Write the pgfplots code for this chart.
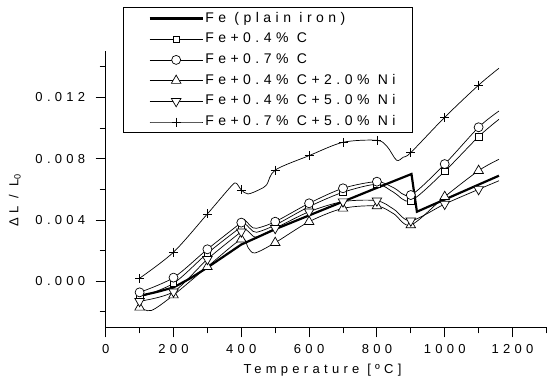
\documentclass[border=0pt]{standalone}
\usepackage{fontspec}
\setmainfont{Liberation Sans}[LetterSpace=33]
\usepackage{pgfplots}
\pgfplotsset{compat=1.18}
\begin{document}
\begin{tikzpicture}
\begin{axis}[
  scale only axis,
  width=440.7bp, height=275.9bp,
  xmin=0, xmax=1300, ymin=-0.003, ymax=0.015,
  axis lines*=left,
  axis line style={line width=1.1bp, black},
  tick align=outside,
  major tick length=10bp, minor tick length=6bp,
  tick style={line width=1bp, black},
  xtick={0,200,...,1200},
  minor xtick={100,300,...,1300},
  ytick={0,0.004,0.008,0.012},
  minor ytick={-0.002,0.002,0.006,0.010,0.014},
  scaled y ticks=false,
  /pgf/number format/assume math mode=true,
  /pgf/number format/1000 sep={},
  yticklabel style={xshift=-7bp, /pgf/number format/.cd, fixed, fixed zerofill, precision=3},
  xticklabel style={yshift=-4bp},
  ticklabel style={font=\fontsize{13bp}{15bp}\selectfont},
  label style={font=\fontsize{13bp}{15bp}\selectfont},
  xlabel={Temperature [ºC]},
  ylabel={ΔL / L\textsubscript{0}},
  xlabel style={at={(axis description cs:0.492,-0.155)}, anchor=center},
  ylabel style={at={(axis description cs:-0.206,0.461)}, anchor=center},
  every axis plot/.append style={line width=0.7bp, black},
  mark options={solid, fill=white, line width=0.7bp},
  legend image code/.code={\path (0bp,0bp); \draw[mark indices={2}] plot coordinates {(10.5bp,0bp) (37bp,0bp) (63.5bp,0bp)};},
  legend cell align=left,
  legend style={at={(axis description cs:0.0385,1.16)}, anchor=north west,
    draw=black, line width=0.8bp, inner xsep=15bp, inner ysep=0.5bp, row sep=0bp,
    font=\fontsize{14bp}{16bp}\selectfont\addfontfeatures{LetterSpace=32},
    nodes={inner xsep=1.5bp, inner ysep=3.85bp, text height=10bp, text depth=3bp}},
]
% Fe (plain iron)
\addplot[line width=2.2bp, mark=none] coordinates {
 (100,-0.00095)(150,-0.0007)(200,-0.0004)(250,0.0002)(300,0.0009)(400,0.0024)
 (500,0.0034)(600,0.0043)(700,0.0052)(800,0.0061)(902,0.0070)(918,0.00454)(1160,0.00689)};
\addlegendentry{Fe (plain iron)}
% Fe+0.4% C
\addplot[smooth, mark=square*, mark size=3.3bp, mark indices={1,2,3,4,8,9,10,11,13,14,15}] coordinates {
 (100,-0.00104)(200,-0.00013)(300,0.00183)(400,0.00356)(412,0.00372)(428,0.0034)(445,0.0032)
 (500,0.00367)(600,0.00487)(700,0.00581)(800,0.00633)(850,0.0058)(900,0.00526)
 (1000,0.00718)(1100,0.00944)(1160,0.01057)};
\addlegendentry{Fe+0.4\% C}
% Fe+0.7% C
\addplot[smooth, mark=*, mark size=4.5bp, mark indices={1,2,3,4,8,9,10,11,13,14,15}] coordinates {
 (100,-0.00072)(200,0.00024)(300,0.00209)(400,0.00383)(412,0.00396)(428,0.0036)(445,0.00346)
 (500,0.00389)(600,0.00509)(700,0.00607)(800,0.0065)(850,0.0061)(900,0.00563)
 (1000,0.00765)(1100,0.01005)(1160,0.01111)};
\addlegendentry{Fe+0.7\% C}
% Fe+0.4% C+2.0% Ni
\addplot[smooth, mark=triangle*, mark size=5.5bp, mark indices={1,3,4,5,8,9,10,11,13,14,15}] coordinates {
 (100,-0.0017)(135,-0.0019)(200,-0.0009)(300,0.00095)(400,0.00274)(420,0.0022)(440,0.00185)
 (500,0.00252)(600,0.00389)(700,0.00476)(800,0.00491)(850,0.0044)(900,0.00367)
 (1000,0.00552)(1100,0.00722)(1160,0.00796)};
\addlegendentry{Fe+0.4\% C+2.0\% Ni}
% Fe+0.4% C+5.0% Ni
\addplot[smooth, mark=triangle*, mark size=5.5bp, mark options={solid, fill=white, line width=0.7bp, rotate=180}, mark indices={1,2,3,4,8,9,10,11,13,14,15}] coordinates {
 (100,-0.0013)(200,-0.00068)(300,0.00144)(400,0.00324)(412,0.0034)(428,0.0031)(445,0.0029)
 (500,0.00346)(600,0.00454)(700,0.0052)(800,0.00526)(850,0.0047)(900,0.00395)
 (1000,0.00504)(1100,0.006)(1160,0.00656)};
\addlegendentry{Fe+0.4\% C+5.0\% Ni}
% Fe+0.7% C+5.0% Ni
\addplot[smooth, mark=+, mark size=4.5bp, mark indices={1,2,3,6,10,11,12,13,17,18,19}] coordinates {
 (100,0.0002)(200,0.0019)(300,0.0044)(370,0.0062)(385,0.0064)(400,0.00596)(420,0.0057)
 (455,0.006)(475,0.0063)(500,0.00726)(600,0.0082)(700,0.00907)(800,0.0092)(830,0.0088)
 (858,0.0079)(878,0.0081)(900,0.0084)(1000,0.0107)(1100,0.0128)(1160,0.0139)};
\addlegendentry{Fe+0.7\% C+5.0\% Ni}
\coordinate (O) at (rel axis cs:0,0);
\end{axis}
\pgfresetboundingbox
\path ([shift={(-105.7bp,-55.7bp)}]O) rectangle ++(547bp,383bp);
\end{tikzpicture}
\end{document}
